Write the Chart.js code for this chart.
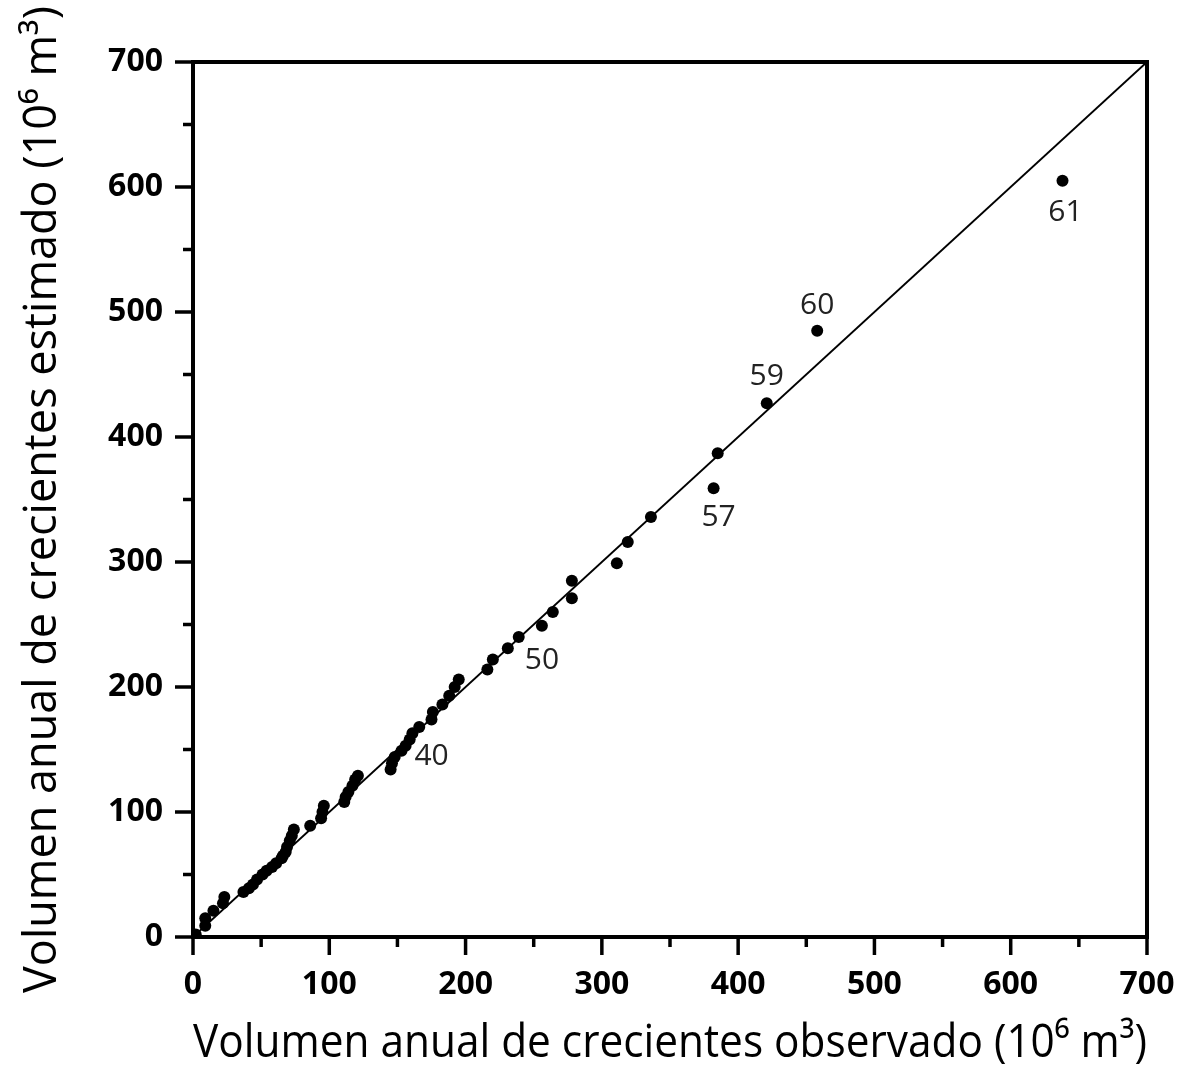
<!DOCTYPE html>
<html>
<head>
<meta charset="utf-8">
<script src="https://cdn.jsdelivr.net/npm/chart.js@4.4.1/dist/chart.umd.min.js"></script>
<style>
    html, body { margin: 0; padding: 0; background: #fff; }
</style>
</head>
<body>
<canvas id="volumeChart" width="1185" height="1078"></canvas>
<script>
// Observed vs estimated annual flood volume (10^6 m3), sorted by observed
const observed = [2, 9, 9, 15, 22, 23, 37, 41, 44, 47, 51, 54, 58, 61, 65, 66, 68, 69, 71, 72.5,
    74, 86, 94, 95, 96, 111, 112, 114, 117, 119, 121, 145, 146, 148, 153, 156, 159, 161, 166, 175,
    176, 183, 188, 192, 195, 216, 220, 231, 239, 256, 264, 278, 278, 311, 319, 336, 382, 385, 421, 458, 638];
const estimated = [2, 9, 15, 21, 27, 32, 36, 39, 42, 46, 50, 53, 56, 59, 63, 65, 68, 72, 77, 81,
    86, 89, 95, 100, 105, 108, 112, 116, 121, 126, 129, 134, 139, 144, 149, 153, 158, 163, 168, 174,
    180, 186, 193, 200, 206, 214, 222, 231, 240, 249, 260, 271, 285, 299, 316, 336, 359, 387, 427, 485, 605];

// 1:1 reference line
const identityLine = [0, 700];

// labelled points
const labelIds = ['40', '50', '57', '59', '60', '61'];
const labelObs = [156, 256, 382, 421, 458, 638];
const labelEst = [153, 249, 359, 427, 485, 605];

const axisMin = 0;
const axisMax = 700;
const majorStep = 100;
const minorStep = 50;

const FONT = "'Open Sans', 'Noto Sans', sans-serif";

// pixel offsets of the point labels (text centre relative to the point)
const labelOffsets = {
    '40': [26, 11],
    '50': [0, 35],
    '57': [5, 29],
    '59': [0, -27],
    '60': [0, -25],
    '61': [3, 32]
};

const framePlugin = {
    id: 'frame',
    afterDraw(chart) {
        const ctx = chart.ctx;
        const area = chart.chartArea;
        const xs = chart.scales.x;
        const ys = chart.scales.y;

        ctx.save();
        ctx.strokeStyle = '#000';
        ctx.lineWidth = 4;
        ctx.lineCap = 'butt';
        ctx.strokeRect(area.left, area.top, area.right - area.left, area.bottom - area.top);

        // outward ticks, long on majors, short on minors
        ctx.lineWidth = 3.5;
        for (let v = axisMin; v <= axisMax; v += minorStep) {
            const len = v % majorStep === 0 ? 18 : 10;
            const px = xs.getPixelForValue(v);
            ctx.beginPath();
            ctx.moveTo(px, area.bottom);
            ctx.lineTo(px, area.bottom + len);
            ctx.stroke();
            const py = ys.getPixelForValue(v);
            ctx.beginPath();
            ctx.moveTo(area.left, py);
            ctx.lineTo(area.left - len, py);
            ctx.stroke();
        }

        // point labels
        ctx.fillStyle = '#222';
        ctx.font = '30px ' + FONT;
        ctx.textAlign = 'center';
        ctx.textBaseline = 'middle';
        labelIds.forEach((id, i) => {
            const off = labelOffsets[id];
            const px = xs.getPixelForValue(labelObs[i]) + off[0];
            const py = ys.getPixelForValue(labelEst[i]) + off[1];
            ctx.fillText(id, px, py);
        });
        ctx.restore();
    }
};

const points = observed.map((x, i) => ({ x: x, y: estimated[i] }));

new Chart(document.getElementById('volumeChart'), {
    type: 'scatter',
    data: {
        datasets: [{
            label: 'Volumen',
            data: points,
            order: 0,
            pointRadius: 6,
            pointBackgroundColor: '#000',
            pointBorderColor: '#000',
            pointBorderWidth: 0
        }, {
            type: 'line',
            label: '1:1',
            data: identityLine.map(v => ({ x: v, y: v })),
            order: 1,
            borderColor: '#000',
            borderWidth: 2,
            pointRadius: 0,
            fill: false
        }]
    },
    options: {
        responsive: false,
        animation: false,
        layout: {
            padding: { top: 62, right: 38, left: 0, bottom: 0 }
        },
        plugins: {
            legend: { display: false },
            tooltip: { enabled: false }
        },
        scales: {
            x: {
                type: 'linear',
                min: axisMin,
                max: axisMax,
                afterFit(scale) {
                    scale.height = 141;
                    scale.paddingLeft = 0;
                    scale.paddingRight = 0;
                },
                grid: { display: false },
                border: { display: true, color: '#000', width: 4 },
                ticks: {
                    stepSize: majorStep,
                    maxRotation: 0,
                    padding: 21,
                    color: '#000',
                    font: { family: FONT, size: 32, weight: 'bold' }
                },
                title: {
                    display: true,
                    text: 'Volumen anual de crecientes observado (10⁶ m³)',
                    color: '#000',
                    padding: { top: 0, bottom: 7 },
                    font: { family: FONT, size: 46 }
                }
            },
            y: {
                type: 'linear',
                min: axisMin,
                max: axisMax,
                afterFit(scale) {
                    scale.width = 193;
                    scale.paddingTop = 0;
                    scale.paddingBottom = 0;
                },
                grid: { display: false },
                border: { display: true, color: '#000', width: 4 },
                ticks: {
                    stepSize: majorStep,
                    padding: 22,
                    color: '#000',
                    font: { family: FONT, size: 32, weight: 'bold' }
                },
                title: {
                    display: true,
                    text: 'Volumen anual de crecientes estimado (10⁶ m³)',
                    color: '#000',
                    padding: { top: 16, bottom: 0 },
                    font: { family: FONT, size: 45 }
                }
            }
        }
    },
    plugins: [framePlugin]
});
</script>
</body>
</html>
